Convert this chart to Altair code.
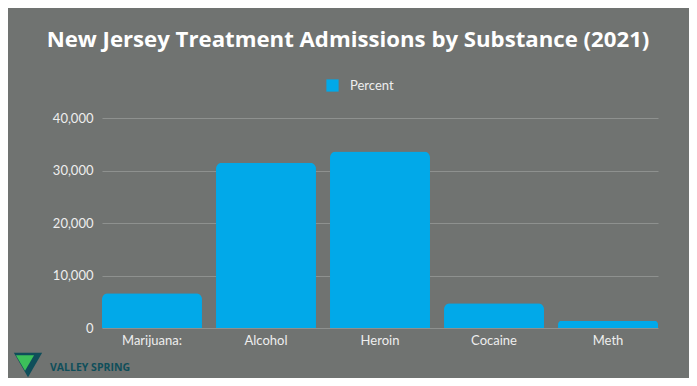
import altair as alt
import pandas as pd

substances = ["Marijuana:", "Alcohol", "Heroin", "Cocaine", "Meth"]
admissions = [6600, 31500, 33600, 4700, 1400]
series_name = ["Percent"] * len(substances)

df = pd.DataFrame({"Substance": substances, "Admissions": admissions, "Series": series_name})

BG = "#707371"
BAR = "#01a9e9"
FONT = "Lato"

bars = alt.Chart(df).mark_bar(
    cornerRadiusTopLeft=6, cornerRadiusTopRight=6
).encode(
    x=alt.X("Substance:N", sort=substances, title=None,
            scale=alt.Scale(paddingInner=0.123, paddingOuter=0),
            axis=alt.Axis(labelAngle=0, ticks=False, domain=False, labelPadding=6,
                          labelFontSize=13, labelColor="#eeeeee", labelFont=FONT)),
    y=alt.Y("Admissions:Q", title=None,
            scale=alt.Scale(domain=[0, 40000]),
            axis=alt.Axis(values=[0, 10000, 20000, 30000, 40000], format=",.0f",
                          ticks=False, domain=False, labelPadding=9,
                          labelFontSize=13, labelColor="#eeeeee", labelFont=FONT,
                          gridColor="#8e918f", gridWidth=1.2)),
    color=alt.Color("Series:N", title=None,
                    scale=alt.Scale(range=[BAR]),
                    legend=alt.Legend(orient="none", legendX=224, legendY=-39,
                                      symbolType="square", symbolSize=150,
                                      symbolStrokeWidth=0, symbolOpacity=1,
                                      labelFontSize=13, labelColor="#eeeeee",
                                      labelFont=FONT, labelOffset=11)),
)

title_df = pd.DataFrame({"t": ["New Jersey Treatment Admissions by Substance (2021)"]})
title = alt.Chart(title_df).mark_text(
    font="Open Sans", fontWeight="bold", fontSize=22.2, color="white",
    align="center", baseline="middle"
).encode(text="t:N", x=alt.value(246), y=alt.value(-78))

logo_df = pd.DataFrame({"t": ["VALLEY SPRING"]})
logo_text = alt.Chart(logo_df).mark_text(
    font="Open Sans", fontWeight="bold", fontSize=10.5, color="#0f4e5a",
    align="left", baseline="middle"
).encode(text="t:N", x=alt.value(-52), y=alt.value(250))

logo_tri = alt.Chart(logo_df).mark_point(
    shape="triangle-down", filled=True, color="#0f4e5a", opacity=1, size=800
).encode(x=alt.value(-74), y=alt.value(247))
logo_tri2 = alt.Chart(logo_df).mark_point(
    shape="triangle-down", filled=True, color="#3cc05a", opacity=1, size=330
).encode(x=alt.value(-77), y=alt.value(245))

chart = alt.layer(bars, title, logo_text, logo_tri, logo_tri2).properties(
    width=556, height=210,
    background=BG,
    autosize=alt.AutoSizeParams(type="none"),
    padding={"left": 94, "right": 31, "top": 110, "bottom": 50},
).configure_view(stroke=None)

chart.save("out.html", embed_options={"renderer": "svg", "actions": False})
